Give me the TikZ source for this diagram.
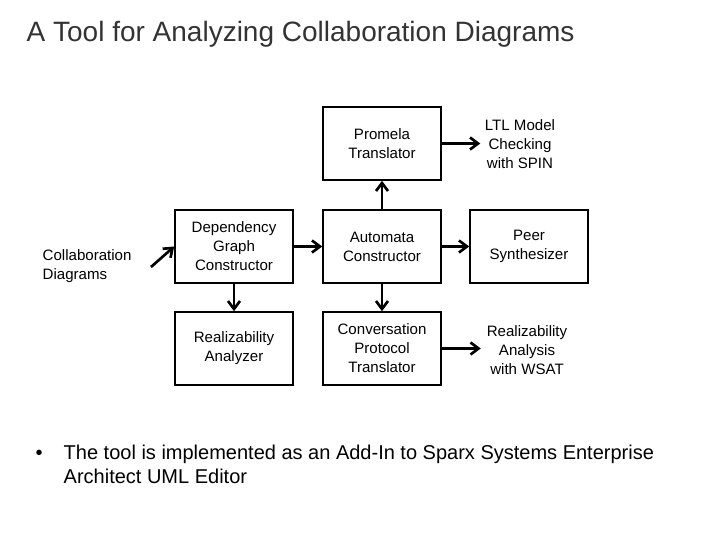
\documentclass[tikz,border=0pt]{standalone}
\usepackage{fontspec}
\setmainfont{Liberation Sans}
\usetikzlibrary{arrows.meta}
\begin{document}
\begin{tikzpicture}[x=0.75pt,y=-0.75pt,
 box/.style={draw,line width=1.2pt,minimum width=88.5pt,minimum height=54.75pt,align=center,font=\fontsize{11.3}{14.3}\selectfont,inner sep=1pt},
 lbl/.style={align=center,font=\fontsize{11.3}{14.3}\selectfont},
 arr/.style={line width=2pt,-{Straight Barb[length=6pt,width=9pt]}}]
\useasboundingbox (0,0) rectangle (720,540);
\node[anchor=west,font=\fontsize{21}{24}\selectfont,text=black!80] (title) at (22,34) {A Tool for Analyzing Collaboration Diagrams};
\node[box] (pro) at (382,143.5) {Promela\\Translator};
\node[box] (dep) at (234,246.5) {Dependency\\Graph\\Constructor};
\node[box] (aut) at (382,246.5) {Automata\\Constructor};
\node[box] (peer) at (529,246.5) {Peer\\Synthesizer};
\node[box] (rea) at (234,348.5) {Realizability\\Analyzer};
\node[box] (conv) at (382,348.5) {Conversation\\Protocol\\Translator};
\node[lbl] (ltl) at (520,144) {LTL Model\\Checking\\with SPIN};
\node[lbl] (wsat) at (527,350) {Realizability\\Analysis\\with WSAT};
\node[lbl,align=left,anchor=west] (col) at (38,266) {Collaboration\\Diagrams};
\coordinate (c1) at (151,267);
\draw[arr] (c1) -- (dep.west);
\draw[arr] (dep) -- (aut);
\draw[arr] (aut) -- (peer);
\draw[arr] (aut) -- (pro);
\draw[arr] (aut) -- (conv);
\draw[arr] (dep) -- (rea);
\draw[arr] (pro.east) -- (ltl.west|-pro.east);
\draw[arr] (conv.east) -- ([xshift=-1pt]wsat.west|-conv.east);
\node[anchor=north west,align=left,font=\fontsize{15}{18}\selectfont] (bul) at (31,440)
 {\makebox[21pt][l]{•}The tool is implemented as an Add-In to Sparx Systems Enterprise\\\hspace*{21pt}Architect UML Editor};
\end{tikzpicture}
\end{document}
